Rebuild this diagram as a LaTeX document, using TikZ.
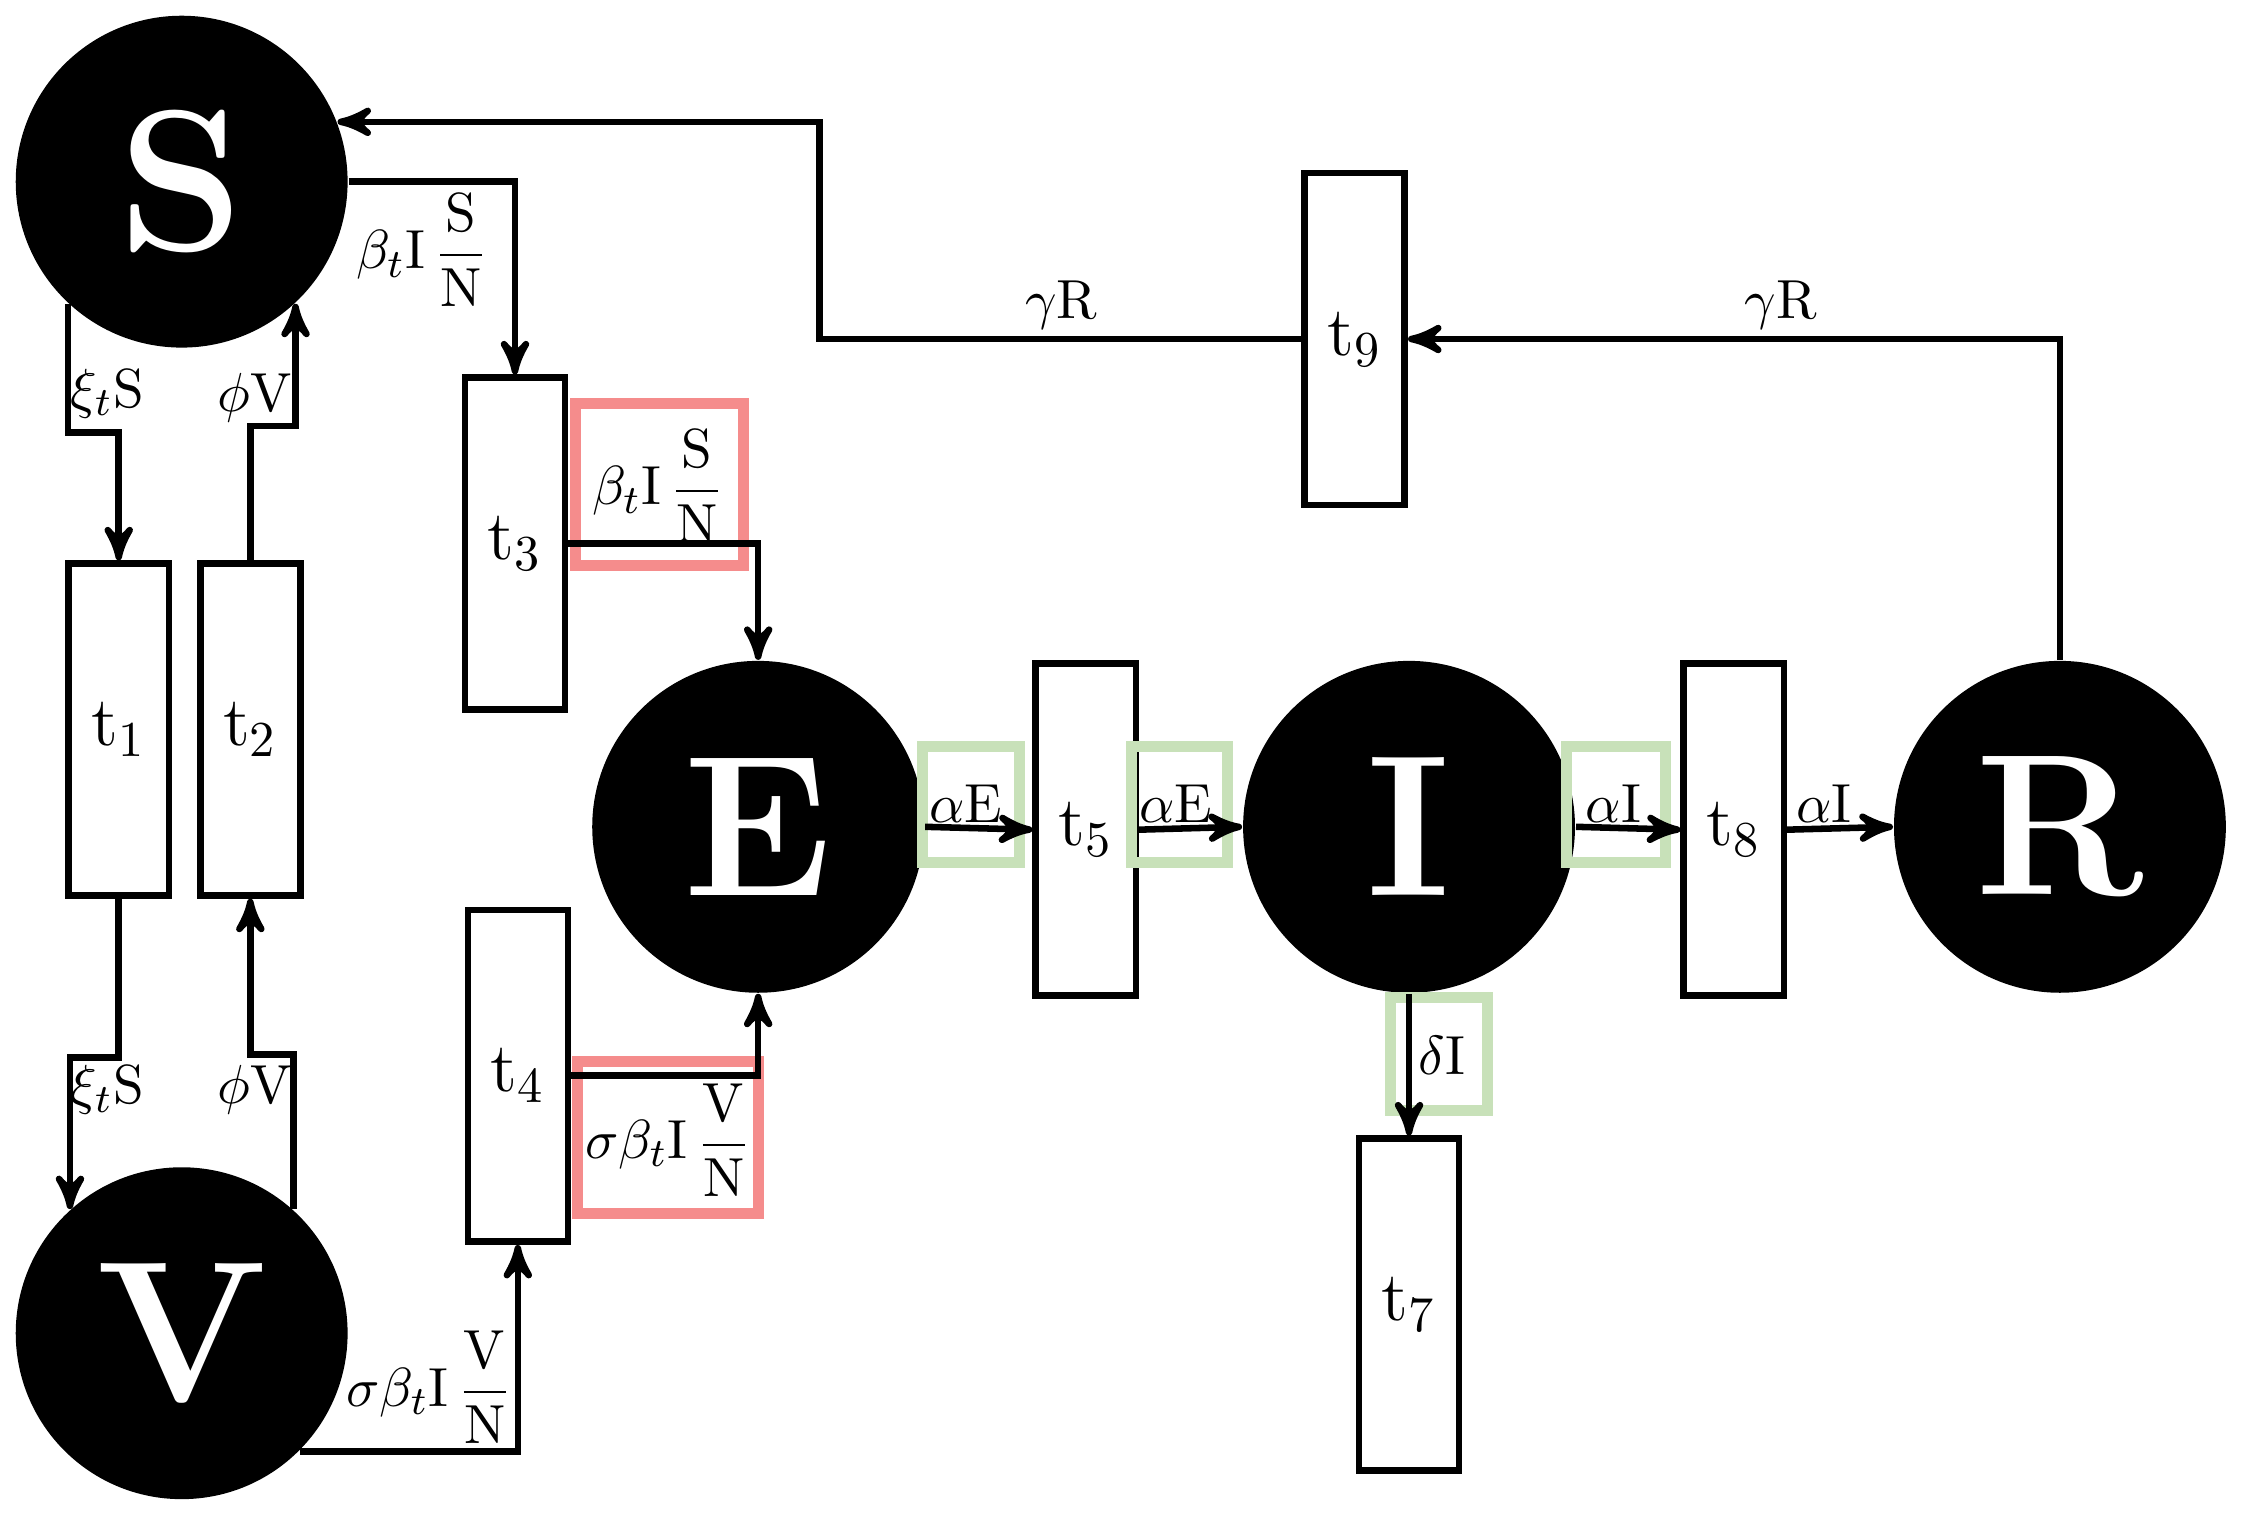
\documentclass[tikz,border=0pt]{standalone}
\usepackage{amsmath}
\usetikzlibrary{positioning,calc,arrows}
\definecolor{hlred}{RGB}{245,140,140}
\definecolor{hlgreen}{RGB}{200,225,185}
\begin{document}
\begin{tikzpicture}[
    state/.style={circle, fill=black, minimum size=2.32cm, inner sep=0pt,
                  text=white, font=\fontsize{40}{40}\selectfont\bfseries},
    trans/.style={draw, line width=1.3pt, minimum width=0.7cm, minimum height=2.32cm,
                  inner sep=0pt, font=\fontsize{14}{14}\selectfont},
    arrow/.style={line width=1.3pt, ->, >=stealth'},
    lab/.style={font=\fontsize{11}{12}\selectfont, inner sep=1pt},
    hlr/.style={draw=hlred, line width=2.2pt},
    hlg/.style={draw=hlgreen, line width=2.2pt}
]
\useasboundingbox (0,0) rectangle (15.68,-10.63);

% compartments
\node[state] (S) at (1.27,-1.27) {S};
\node[state] (V) at (1.27,-9.32) {V};
\node[state] (E) at (5.30,-5.78) {E};
\node[state] (I) at (9.85,-5.78) {I};
\node[state] (R) at (14.40,-5.78) {R};

% transitions
\node[trans] (t1) at (0.83,-5.10) {t$_1$};
\node[trans] (t2) at (1.75,-5.10) {t$_2$};
\node[trans] (t3) at (3.60,-3.80) {t$_3$};
\node[trans] (t4) at (3.62,-7.52) {t$_4$};
\node[trans] (t5) at (7.59,-5.80) {t$_5$};
\node[trans] (t8) at (12.12,-5.80) {t$_8$};
\node[trans] (t7) at (9.85,-9.12) {t$_7$};
\node[trans] (t9) at (9.47,-2.37) {t$_9$};

% highlight boxes
\draw[hlr] (4.02,-2.82) rectangle (5.20,-3.95);
\draw[hlr] (4.04,-7.42) rectangle (5.30,-8.48);
\draw[hlg] (6.45,-5.22) rectangle (7.13,-6.03);
\draw[hlg] (7.91,-5.22) rectangle (8.58,-6.03);
\draw[hlg] (10.95,-5.22) rectangle (11.64,-6.03);
\draw[hlg] (9.72,-6.97) rectangle (10.40,-7.76);

% connectors
\draw[arrow] (S.-133) -- ++(0,-0.9) -| (t1.north);
\draw[arrow] (t2.north) -- ++(0,0.94) -| (S.-47);
\draw[arrow] (t1.south) -- ++(0,-1.11) -| (V.132);
\draw[arrow] (V.48) -- ++(0,1.08) -| (t2.south);
\draw[arrow] (S.east) -| (t3.north);
\draw[arrow] (t3.east) -| (E.north);
\draw[arrow] (V.-45) -| (t4.south);
\draw[arrow] (t4.east) -| (E.south);
\draw[arrow] (E.east) -- (t5.west);
\draw[arrow] (t5.east) -- (I.west);
\draw[arrow] (I.east) -- (t8.west);
\draw[arrow] (t8.east) -- (R.west);
\draw[arrow] (I.south) -- (t7.north);
\draw[arrow] (R.north) |- (t9.east);
\draw[arrow] (t9.west) -- ++(-3.37,0) |- (S.21);

% rate labels
\node[lab] at (0.75,-2.75) {$\xi_t\mathrm{S}$};
\node[lab] at (1.78,-2.78) {$\phi\mathrm{V}$};
\node[lab] at (0.75,-7.62) {$\xi_t\mathrm{S}$};
\node[lab] at (1.78,-7.62) {$\phi\mathrm{V}$};
\node[lab] at (2.95,-1.75) {$\beta_t\mathrm{I}\,\dfrac{\mathrm{S}}{\mathrm{N}}$};
\node[lab] at (4.60,-3.40) {$\beta_t\mathrm{I}\,\dfrac{\mathrm{S}}{\mathrm{N}}$};
\node[lab] at (3.00,-9.70) {$\sigma\beta_t\mathrm{I}\,\dfrac{\mathrm{V}}{\mathrm{N}}$};
\node[lab] at (4.67,-7.97) {$\sigma\beta_t\mathrm{I}\,\dfrac{\mathrm{V}}{\mathrm{N}}$};
\node[lab] at (6.75,-5.62) {$\alpha\mathrm{E}$};
\node[lab] at (8.22,-5.62) {$\alpha\mathrm{E}$};
\node[lab] at (11.28,-5.62) {$\alpha\mathrm{I}$};
\node[lab] at (12.75,-5.62) {$\alpha\mathrm{I}$};
\node[lab] at (10.08,-7.38) {$\delta\mathrm{I}$};
\node[lab] at (12.45,-2.13) {$\gamma\mathrm{R}$};
\node[lab] at (7.42,-2.13) {$\gamma\mathrm{R}$};
\end{tikzpicture}
\end{document}
